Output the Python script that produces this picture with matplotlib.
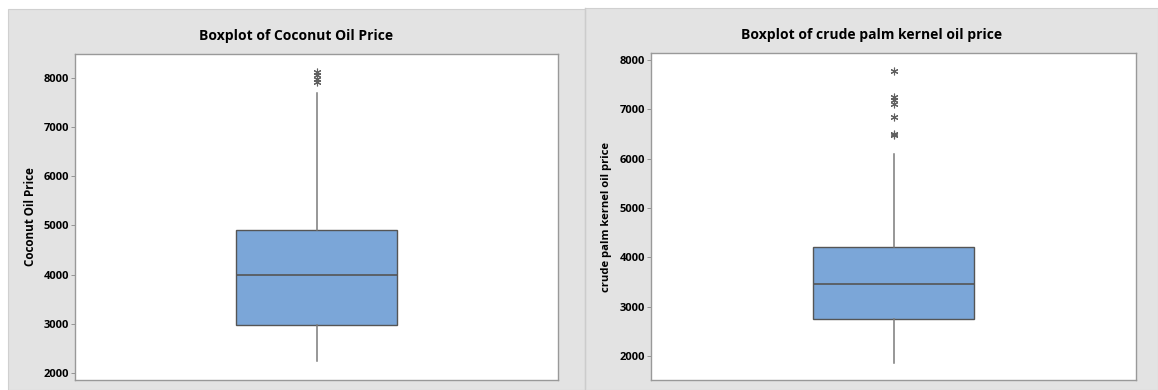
import matplotlib.pyplot as plt
from matplotlib.patches import Rectangle
from matplotlib.lines import Line2D

plt.rcParams['font.family'] = ['Open Sans', 'DejaVu Sans']

# summary values
coconut_q1, coconut_med, coconut_q3 = 2990, 4000, 4905
coconut_whislo, coconut_whishi = 2255, 7695
coconut_fliers = [8115, 8045, 7975, 7910]

palm_q1, palm_med, palm_q3 = 2755, 3450, 4205
palm_whislo, palm_whishi = 1865, 6095
palm_fliers = [7785, 7255, 7185, 7100, 6840, 6490, 6480]

titles = ['Boxplot of Coconut Oil Price', 'Boxplot of crude palm kernel oil price']
ylabels = ['Coconut Oil Price', 'crude palm kernel oil price']
yticks = [2000, 3000, 4000, 5000, 6000, 7000, 8000]

W, H = 1158, 390
fig = plt.figure(figsize=(W / 100, H / 100), dpi=100)
fig.patch.set_facecolor('white')

# gray panel backgrounds (pixel boxes: x0, y0 from top, x1, y1)
for x0, y0, x1, y1 in [(8, 9, 585, 390), (585, 8, 1158, 390)]:
    fig.patches.append(Rectangle((x0 / W, 1 - y1 / H), (x1 - x0) / W, (y1 - y0) / H,
                                 transform=fig.transFigure, facecolor='#e3e3e3',
                                 edgecolor='#d0d0d0', linewidth=0.8, zorder=-2))
fig.lines.append(Line2D([585 / W, 585 / W], [0, 1 - 8 / H], transform=fig.transFigure,
                        color='#cccccc', linewidth=1.0, zorder=-1))


def pos(x0, y0, x1, y1):
    return [x0 / W, 1 - y1 / H, (x1 - x0) / W, (y1 - y0) / H]


panels = [
    dict(rect=pos(75, 54, 558, 380), ylim=(1864, 8481), tx=296.5, ty=36, lx=31, ls=8.4,
         stats=dict(q1=coconut_q1, med=coconut_med, q3=coconut_q3,
                    whislo=coconut_whislo, whishi=coconut_whishi, fliers=coconut_fliers)),
    dict(rect=pos(651, 53, 1136, 380), ylim=(1513, 8142), tx=871.5, ty=35, lx=607, ls=8.1,
         stats=dict(q1=palm_q1, med=palm_med, q3=palm_q3,
                    whislo=palm_whislo, whishi=palm_whishi, fliers=palm_fliers)),
]

for i, p in enumerate(panels):
    ax = fig.add_axes(p['rect'])
    ax.set_facecolor('white')
    ax.bxp([p['stats']], positions=[0], widths=0.333, patch_artist=True,
           showcaps=False,
           boxprops=dict(facecolor='#7ba6d8', edgecolor='#555555', linewidth=1.0),
           medianprops=dict(color='#555555', linewidth=1.2),
           whiskerprops=dict(color='#7a7a7a', linewidth=1.1),
           flierprops=dict(marker=(6, 2, 0), markersize=5.5, markeredgecolor='#606060',
                           markeredgewidth=0.8, linestyle='none'))
    ax.set_xlim(-0.5, 0.5)
    ax.set_ylim(*p['ylim'])
    ax.set_xticks([])
    ax.set_yticks(yticks)
    ax.set_yticklabels([str(t) for t in yticks], fontsize=8, fontweight='bold')
    ax.tick_params(axis='y', length=3, width=0.6, color='#888888', pad=1)
    for s in ax.spines.values():
        s.set_color('#999999')
        s.set_linewidth(1.0)
    fig.text(p['tx'] / W, 1 - p['ty'] / H, titles[i], ha='center', va='center',
             fontsize=10, fontweight='bold')
    fig.text(p['lx'] / W, (1 - (54 + 380) / 2 / H), ylabels[i], ha='center', va='center',
             rotation=90, fontsize=p['ls'], fontweight='bold')

fig.savefig('out.png', dpi=100)
